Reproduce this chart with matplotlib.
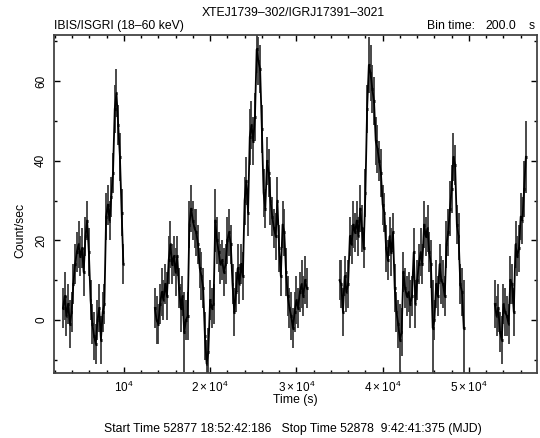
import matplotlib
matplotlib.use("Agg")
import matplotlib.pyplot as plt
from matplotlib.ticker import MultipleLocator, FixedLocator
import numpy as np

plt.rcParams["font.family"] = ["Liberation Sans", "DejaVu Sans"]
plt.rcParams["mathtext.fontset"] = "custom"
plt.rcParams["mathtext.rm"] = "Liberation Sans"

BIN = 200.0

# light-curve segments (start time of first bin, count rates, 1-sigma errors)
seg1_t0 = 2950
seg1_rate = [3, 6, 1, 4, -1, 2, 9, 14, 17, 19, 16, 18, 12, 21, 25, 17, 5, -1, -4, -6,
             0, 3, -5, 2, 4, 26, 29, 25, 31, 37, 53, 57, 49, 41, 27, 14]
seg1_err = [5, 6, 5, 5, 6, 5, 5, 5, 5, 6, 5, 5, 6, 5, 5, 6, 5, 5, 6, 5,
            5, 6, 6, 5, 5, 6, 5, 5, 5, 5, 6, 6, 5, 6, 6, 5]

seg2_t0 = 13600
seg2_rate = [3, 0, -1, 4, 7, 5, 9, 6, 15, 19, 14, 16, 12, 16, 8, 3, 6, -3, 0, 1,
             24, 28, 25, 23, 22, 19, 13, 11, 8, -4, -11, -8, 5, 3, 4, 25, 20, 17, 14, 15,
             12, 14, 20, 22, 19, 9, 2, 7, 13, 9, 14, 11, 30, 35, 27, 46, 49, 45, 51, 68,
             65, 63, 48, 32, 28, 40, 37, 30, 26, 23, 21, 30, 18, 11, 24, 22, 12, 6, 3, 1,
             -2, 2, 5, 3, 7, 9, 6, 10, 8]
seg2_err = [5, 6, 5, 5, 6, 5, 5, 6, 6, 6, 5, 5, 6, 5, 5, 6, 5, 10, 5, 6,
            6, 6, 5, 5, 6, 5, 5, 6, 5, 6, 6, 6, 5, 5, 5, 8, 6, 5, 5, 5,
            6, 5, 6, 6, 5, 5, 6, 5, 6, 5, 5, 6, 6, 6, 6, 7, 6, 6, 6, 6,
            6, 6, 6, 6, 5, 6, 6, 6, 5, 5, 6, 6, 6, 5, 6, 6, 6, 5, 5, 6,
            5, 5, 6, 5, 5, 6, 5, 6, 5]

seg3_t0 = 35000
seg3_rate = [10, 9, 2, 11, 7, 9, 21, 19, 24, 22, 25, 21, 28, 23, 18, 32, 53, 64, 62, 58,
             55, 45, 43, 40, 37, 29, 27, 18, 15, 21, 17, 22, 8, 2, -1, -5, -3, 12, 8, 6,
             7, 4, 6, 17, 4, 10, 14, 17, 14, 24, 21, 23, 17, 14, -2, 0, 9, 6, 14, 10,
             9, 6, 19, 22, 28, 33, 41, 39, 24, 21, 9, 7, -2]
seg3_err = [5, 6, 6, 5, 5, 6, 5, 5, 6, 5, 5, 5, 6, 6, 5, 6, 6, 7, 7, 6,
            6, 6, 6, 5, 6, 5, 5, 6, 5, 5, 6, 5, 6, 5, 6, 9, 6, 5, 5, 5,
            5, 6, 5, 6, 6, 5, 5, 6, 5, 6, 5, 6, 5, 6, 12, 5, 6, 5, 5, 6,
            6, 5, 6, 6, 7, 6, 6, 5, 5, 6, 5, 6, 12]

seg4_t0 = 53000
seg4_rate = [4, 1, 3, -3, -5, 4, 2, 1, -1, 10, 9, 2, 19, 16, 18, 26, 25, 33, 41]
seg4_err = [6, 5, 6, 5, 6, 5, 6, 5, 5, 6, 5, 6, 6, 5, 6, 6, 6, 7, 9]

segments = [(seg1_t0, seg1_rate, seg1_err), (seg2_t0, seg2_rate, seg2_err),
            (seg3_t0, seg3_rate, seg3_err), (seg4_t0, seg4_rate, seg4_err)]

xtick_pos = [10000, 20000, 30000, 40000, 50000]
xtick_lab = [r"$10^4$", r"$2\times10^4$", r"$3\times10^4$", r"$4\times10^4$", r"$5\times10^4$"]
ytick_pos = [0, 20, 40, 60]

W, H = 540, 438
fig = plt.figure(figsize=(W / 100, H / 100), dpi=100)
ax = fig.add_axes([54 / W, 1 - 373 / H, (537 - 54) / W, (373 - 35) / H])

for t0, rate, err in segments:
    t = t0 + BIN * np.arange(len(rate))
    ax.errorbar(t, rate, yerr=err, fmt="none", ecolor="#3a3a3a", elinewidth=1.3, capsize=0)
    ax.plot(t, rate, "-", color="black", lw=1.3)
    ax.errorbar(t, rate, xerr=BIN / 2, fmt="none", ecolor="black", elinewidth=2.2, capsize=0)

ax.set_xlim(1910, 57890)
ax.set_ylim(-13.3, 71.6)
ax.xaxis.set_major_locator(FixedLocator(xtick_pos))
ax.set_xticklabels(xtick_lab)
ax.xaxis.set_minor_locator(MultipleLocator(2000))
ax.yaxis.set_major_locator(FixedLocator(ytick_pos))
ax.yaxis.set_minor_locator(MultipleLocator(10))
ax.tick_params(which="both", direction="in", top=True, right=True, labelsize=8.5, width=1.0)
ax.tick_params(which="major", length=4.5)
ax.tick_params(which="minor", length=2.5)
ax.tick_params(axis="y", labelrotation=90, pad=5)
ax.tick_params(axis="x", pad=5)
for lab in ax.get_yticklabels():
    lab.set_va("center")
for s in ax.spines.values():
    s.set_color("#444444")
    s.set_linewidth(1.3)

ax.set_xlabel("Time (s)", fontsize=8.8, labelpad=-1)
fig.text(20 / W, 1 - 230 / H, "Count/sec", rotation=90, ha="center", va="center", fontsize=8.8)

fig.text(293 / W, 1 - 13 / H, "XTEJ1739\u2013302/IGRJ17391\u20133021", ha="center", va="center", fontsize=8.8)
fig.text(54 / W, 1 - 26 / H, "IBIS/ISGRI (18\u201360 keV)", ha="left", va="center", fontsize=8.8)
fig.text(427 / W, 1 - 26 / H, "Bin time:", ha="left", va="center", fontsize=8.8)
fig.text(516 / W, 1 - 26 / H, "200.0", ha="right", va="center", fontsize=8.8)
fig.text(535 / W, 1 - 26 / H, "s", ha="right", va="center", fontsize=8.8)
fig.text(293 / W, 1 - 429 / H,
         "Start Time 52877 18:52:42:186   Stop Time 52878  9:42:41:375 (MJD)",
         ha="center", va="center", fontsize=8.8)

fig.savefig("out.png", dpi=100)
